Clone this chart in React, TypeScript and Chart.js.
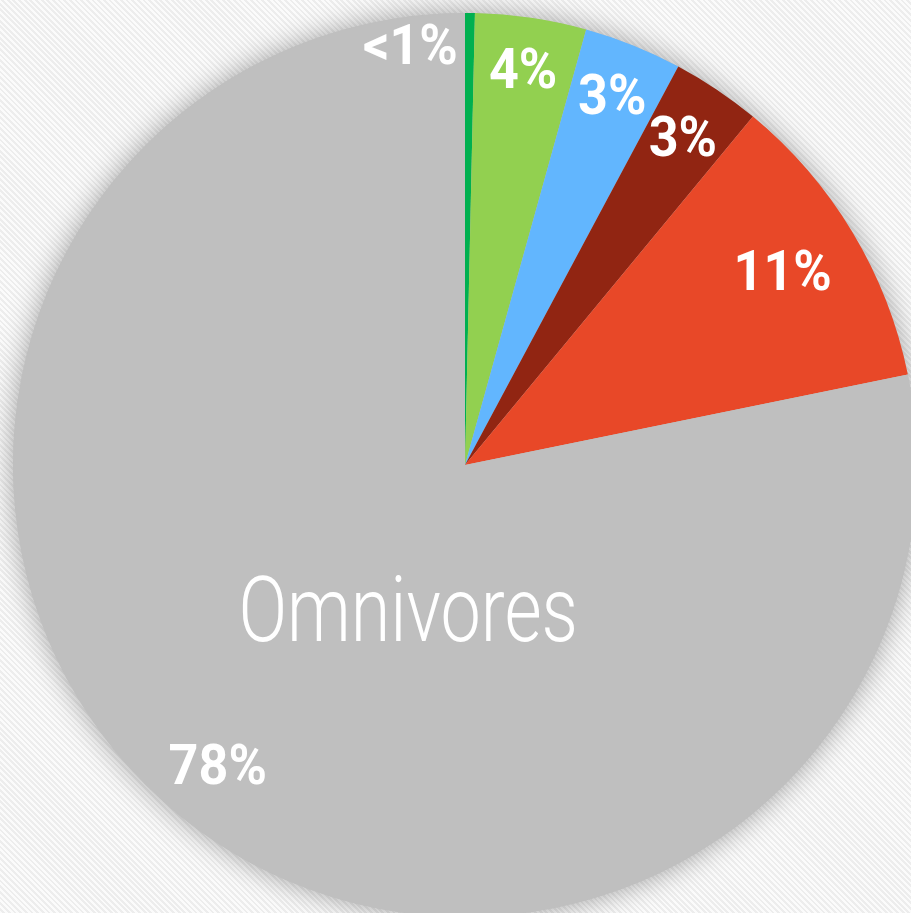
import React, { useEffect, useRef } from "react";
import { Chart, registerables } from "chart.js";

Chart.register(...registerables);

const categories = ["Végans", "Végétariens", "Pesco-végétariens", "Flexitariens", "Semi-végétariens", "Omnivores"];
const shares = [0.35, 3.97, 3.5, 3.17, 10.8, 78.2];
const shareLabels = ["<1%", "4%", "3%", "3%", "11%", "78%"];
const sliceColors = ["#00B050", "#92D050", "#62B6FE", "#912512", "#E84828", "#BFBFBF"];
const namedCategory = "Omnivores";

// label placement (fraction of radius, angular offset in degrees)
const labelRadius = [0.93, 0.88, 0.875, 0.865, 0.82, 0.865];
const labelAngleOffset = [-8.1, 0, 0, 0, 0, 0];

const labelPlugin = {
  id: "pieLabels",
  beforeDatasetsDraw(chart: any) {
    const meta = chart.getDatasetMeta(0);
    const arc = meta.data[0];
    if (!arc) return;
    const { x, y, outerRadius } = arc.getProps(["x", "y", "outerRadius"], true);
    const ctx = chart.ctx;
    ctx.save();
    ctx.shadowColor = "rgba(0,0,0,0.35)";
    ctx.shadowBlur = 28;
    ctx.beginPath();
    ctx.arc(x, y, outerRadius, 0, Math.PI * 2);
    ctx.fillStyle = "#BFBFBF";
    ctx.fill();
    ctx.restore();
  },
  afterDatasetsDraw(chart: any) {
    const meta = chart.getDatasetMeta(0);
    const ctx = chart.ctx;
    ctx.save();
    ctx.fillStyle = "#ffffff";
    ctx.textAlign = "center";
    ctx.textBaseline = "middle";
    meta.data.forEach((el: any, i: number) => {
      const p = el.getProps(["x", "y", "startAngle", "endAngle", "outerRadius"], true);
      const mid = (p.startAngle + p.endAngle) / 2 + (labelAngleOffset[i] * Math.PI) / 180;
      const r = p.outerRadius * labelRadius[i];
      const lx = p.x + Math.cos(mid) * r;
      const ly = p.y + Math.sin(mid) * r;
      ctx.save();
      ctx.translate(lx, ly);
      ctx.scale(0.93, 1);
      ctx.font = "bold 56px Roboto";
      ctx.fillText(shareLabels[i], 0, 2);
      ctx.restore();
      if (categories[i] === namedCategory) {
        const a = mid - (18.5 * Math.PI) / 180;
        const rr = p.outerRadius * 0.355;
        const cx = p.x + Math.cos(a) * rr;
        const cy = p.y + Math.sin(a) * rr;
        ctx.save();
        ctx.translate(cx, cy);
        ctx.scale(0.79, 1);
        ctx.font = "300 91px Roboto";
        ctx.fillText(namedCategory, 0, 3);
        ctx.restore();
      }
    });
    ctx.restore();
  },
};

export default function App() {
  const ref = useRef<HTMLCanvasElement | null>(null);
  useEffect(() => {
    document.body.style.margin = "0";
    const chart = new Chart(ref.current as HTMLCanvasElement, {
      type: "pie",
      data: {
        labels: categories,
        datasets: [
          {
            data: shares,
            backgroundColor: sliceColors,
            borderWidth: 0,
          },
        ],
      },
      options: {
        responsive: false,
        animation: false,
        layout: { padding: 13 },
        plugins: {
          legend: { display: false },
          tooltip: { enabled: false },
          title: { display: false },
        },
      },
      plugins: [labelPlugin],
    });
    return () => chart.destroy();
  }, []);
  return (
    <div
      style={{
        width: 911,
        height: 913,
        overflow: "hidden",
        position: "relative",
        background:
          "repeating-linear-gradient(45deg, #fbfbfb 0px, #fbfbfb 2px, #ededed 2px, #ededed 4px)",
      }}
    >
      <canvas ref={ref} width={930} height={930} style={{ position: "absolute", left: 0, top: 0 }} />
    </div>
  );
}
